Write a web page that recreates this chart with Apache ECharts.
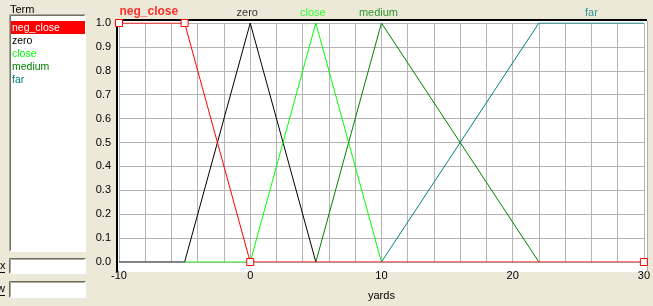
<!DOCTYPE html>
<html><head><meta charset="utf-8">
<script src="https://cdn.jsdelivr.net/npm/echarts@6/dist/echarts.min.js"></script>
<style>html,body{margin:0;padding:0;background:#ece9d8}#c{width:653px;height:306px}</style>
</head><body><div id="c"></div>
<script>
// Membership functions (x in yards, y membership)
const termNames = ['neg_close', 'zero', 'close', 'medium', 'far'];
const negCloseX = [-10, -5, 0, 30];
const negCloseY = [1, 1, 0, 0];
const zeroX = [-10, -5, 0, 5];
const zeroY = [0, 0, 1, 0];
const closeX = [-5, 0, 5, 10];
const closeY = [0, 0, 1, 0];
const mediumX = [5, 10, 22];
const mediumY = [0, 1, 0];
const farX = [10, 22, 30];
const farY = [0, 1, 1];
const termLabelX = [-7.5, 0, 5, 10, 26];
const xTicks = [-10, 0, 10, 20, 30];
const yTicks = [0.0, 0.1, 0.2, 0.3, 0.4, 0.5, 0.6, 0.7, 0.8, 0.9, 1.0];

const colors = ['#ff0000', '#000000', '#00ff00', '#008000', '#008080'];
const FONT = 'Liberation Sans';

function pairs(xs, ys) { return xs.map((x, i) => [x, ys[i]]); }
const curves = [pairs(negCloseX, negCloseY), pairs(zeroX, zeroY), pairs(closeX, closeY), pairs(mediumX, mediumY), pairs(farX, farY)];

const series = [];
// draw non-selected first, selected (neg_close) last
[1, 2, 3, 4, 0].forEach(i => {
  const sel = i === 0;
  series.push({
    type: 'line', name: termNames[i], data: curves[i], animation: false,
    z: sel ? 5 : 3,
    lineStyle: { color: colors[i], width: 1 },
    symbol: sel ? 'rect' : 'none', symbolSize: 7, showAllSymbol: true,
    itemStyle: { color: '#ffffff', borderColor: colors[i], borderWidth: 1 },
    emphasis: { disabled: true }
  });
});
series.push({
  type: 'scatter', animation: false, symbolSize: 0, silent: true,
  data: termNames.map((n, i) => ({
    value: [termLabelX[i], 1], name: n,
    label: {
      show: true, position: 'top', distance: 5, formatter: n,
      offset: [i === 4 ? 0 : -3, 0],
      color: colors[i], fontFamily: FONT,
      fontSize: i === 0 ? 12 : 11, fontWeight: i === 0 ? 'bold' : 'normal'
    }
  }))
});

const listItems = termNames.map((n, i) => ({
  type: 'text', left: 12, top: 23 + i * 13,
  style: { text: n, fill: i === 0 ? '#ffffff' : colors[i], font: '10.5px "' + FONT + '"' }
}));

const chart = echarts.init(document.getElementById('c'));
chart.setOption({
  backgroundColor: '#ece9d8',
  animation: false,
  grid: { left: 119, right: 9, top: 23, bottom: 37, containLabel: false },
  xAxis: {
    type: 'value', min: xTicks[0], max: xTicks[xTicks.length - 1], interval: 10,
    name: 'yards', nameLocation: 'middle', nameGap: 28,
    nameTextStyle: { color: '#000', fontFamily: FONT, fontSize: 11 },
    axisLine: { show: false }, axisTick: { show: false },
    axisLabel: { color: '#000', fontFamily: FONT, fontSize: 11, margin: 8 },
    splitLine: { show: true, lineStyle: { color: '#b4b4b4', width: 1 } },
    minorTick: { show: false, splitNumber: 5 },
    minorSplitLine: { show: true, lineStyle: { color: '#b4b4b4', width: 1 } }
  },
  yAxis: {
    type: 'value', min: yTicks[0], max: yTicks[yTicks.length - 1], interval: 0.1,
    axisLine: { show: false }, axisTick: { show: false },
    axisLabel: { color: '#000', fontFamily: FONT, fontSize: 11, margin: 8, formatter: v => v.toFixed(1) },
    splitLine: { show: true, lineStyle: { color: '#b4b4b4', width: 1 } }
  },
  graphic: [
    { type: 'rect', z: -10, shape: { x: 117, y: 20, width: 530, height: 252 }, style: { fill: '#ffffff' } },
    { type: 'rect', z: 2, shape: { x: 116, y: 19, width: 531, height: 2 }, style: { fill: '#000000' } },
    { type: 'rect', z: 2, shape: { x: 116, y: 19, width: 2, height: 253 }, style: { fill: '#000000' } },
    { type: 'rect', z: 2, shape: { x: 647, y: 21, width: 1, height: 251 }, style: { fill: '#b0b0b0' } },
    // left panel
    { type: 'text', left: 10, top: 4, style: { text: 'Term', fill: '#000', font: '11px "' + FONT + '"' } },
    { type: 'rect', shape: { x: 10, y: 15, width: 6, height: 1 }, style: { fill: '#000' } },
    { type: 'rect', shape: { x: 9, y: 14, width: 77, height: 238 }, style: { fill: '#ffffff' } },
    { type: 'polyline', shape: { points: [[9.5, 251.5], [9.5, 14.5], [85.5, 14.5]] }, style: { stroke: '#aca899', fill: null, lineWidth: 1 } },
    { type: 'polyline', shape: { points: [[10.5, 250.5], [10.5, 15.5], [84.5, 15.5]] }, style: { stroke: '#716f64', fill: null, lineWidth: 1 } },
    { type: 'rect', shape: { x: 11, y: 21, width: 74, height: 13 }, style: { fill: '#ff0000' } },
    ...listItems,
    { type: 'text', left: 0, top: 260, style: { text: 'x', fill: '#000', font: '11px "' + FONT + '"' } },
    { type: 'rect', shape: { x: 0, y: 272, width: 5, height: 1 }, style: { fill: '#000' } },
    { type: 'text', left: -3, top: 283, style: { text: 'w', fill: '#000', font: '11px "' + FONT + '"' } },
    { type: 'rect', shape: { x: 0, y: 295, width: 5, height: 1 }, style: { fill: '#000' } },
    { type: 'rect', shape: { x: 9, y: 258, width: 77, height: 16 }, style: { fill: '#ffffff' } },
    { type: 'polyline', shape: { points: [[9.5, 273.5], [9.5, 258.5], [85.5, 258.5]] }, style: { stroke: '#716f64', fill: null, lineWidth: 1 } },
    { type: 'polyline', shape: { points: [[10.5, 272.5], [10.5, 259.5], [84.5, 259.5]] }, style: { stroke: '#aca899', fill: null, lineWidth: 1 } },
    { type: 'rect', shape: { x: 9, y: 281, width: 77, height: 17 }, style: { fill: '#ffffff' } },
    { type: 'polyline', shape: { points: [[9.5, 297.5], [9.5, 281.5], [85.5, 281.5]] }, style: { stroke: '#716f64', fill: null, lineWidth: 1 } },
    { type: 'polyline', shape: { points: [[10.5, 296.5], [10.5, 282.5], [84.5, 282.5]] }, style: { stroke: '#aca899', fill: null, lineWidth: 1 } }
  ],
  series: series
});
</script></body></html>
